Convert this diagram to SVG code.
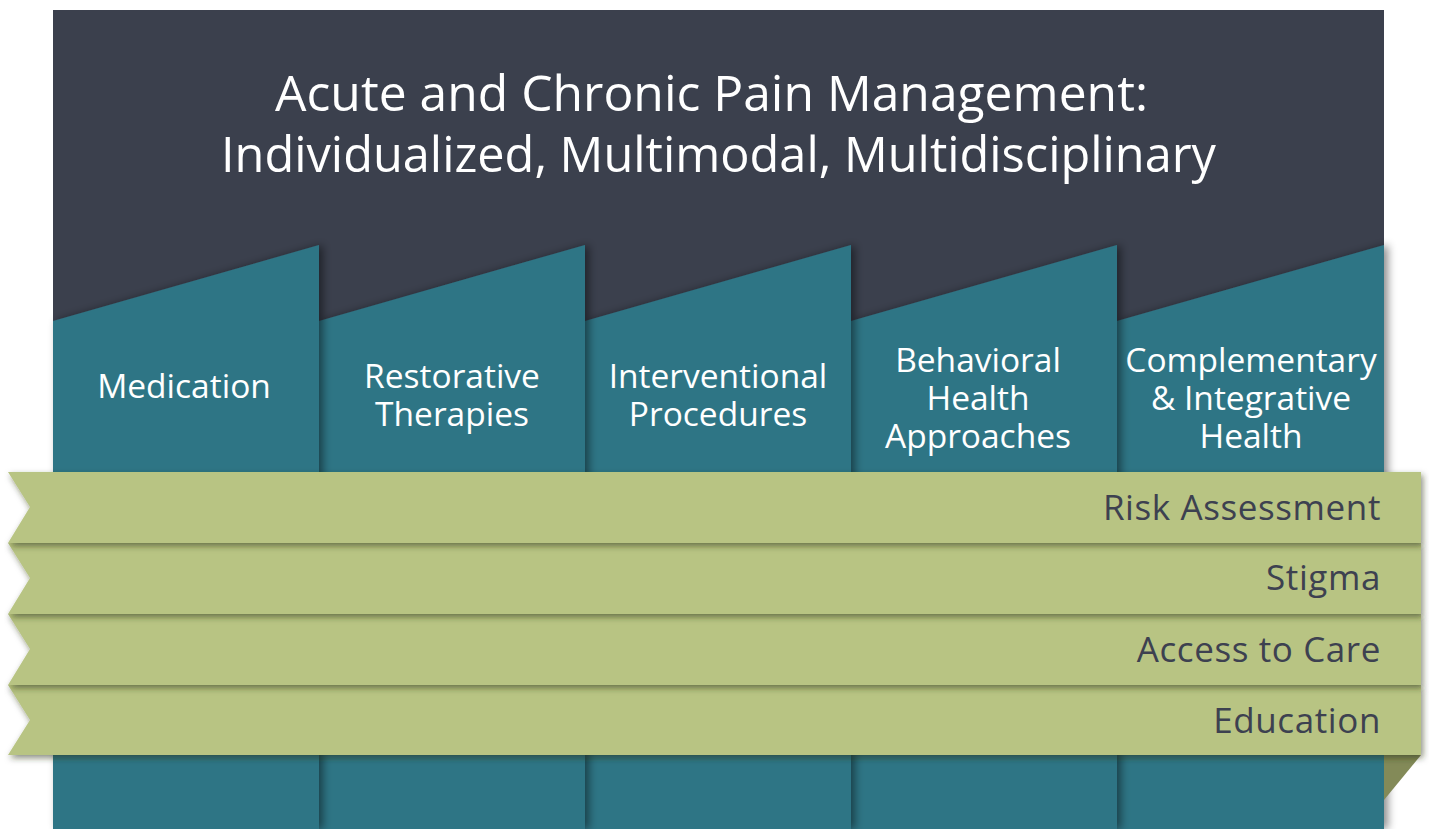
<svg xmlns="http://www.w3.org/2000/svg" width="1429" height="829" viewBox="0 0 1429 829">
<defs>
<filter id="colShadow" x="-20%" y="-20%" width="140%" height="140%">
<feDropShadow dx="4" dy="0" stdDeviation="4" flood-color="#000" flood-opacity="0.45"/>
</filter>
<filter id="ribShadow" x="-5%" y="-30%" width="110%" height="160%">
<feDropShadow dx="2" dy="3" stdDeviation="3" flood-color="#2a2f10" flood-opacity="0.55"/>
</filter>
<style>
.col{fill:#2f7585;filter:url(#colShadow)}
.rib{fill:#b8c483;filter:url(#ribShadow)}
.ct{font-family:"Open Sans","Liberation Sans",sans-serif;font-size:33.5px;fill:#ffffff;text-anchor:middle}
.rt{font-family:"Open Sans","Liberation Sans",sans-serif;font-size:35px;letter-spacing:0.6px;fill:#3d4150;text-anchor:end}
.title{font-family:"Open Sans","Liberation Sans",sans-serif;font-size:49.5px;fill:#ffffff}
</style>
</defs>
<rect x="53" y="10" width="1331" height="330" fill="#3b404d"/>
<g id="title"><text class="title" x="275" y="111" textLength="873" lengthAdjust="spacingAndGlyphs">Acute and Chronic Pain Management:</text><text class="title" x="221" y="172" textLength="995" lengthAdjust="spacingAndGlyphs">Individualized, Multimodal, Multidisciplinary</text></g>
<g id="columns">
<g id="col5"><polygon class="col" points="1117,321 1384,245 1384,829 1117,829"/><text class="ct" x="1251" y="372">Complementary</text><text class="ct" x="1251" y="410">&amp; Integrative</text><text class="ct" x="1251" y="448">Health</text></g>
<g id="col4"><polygon class="col" points="851,321 1117,245 1117,829 851,829"/><text class="ct" x="978" y="372">Behavioral</text><text class="ct" x="978" y="410">Health</text><text class="ct" x="978" y="448">Approaches</text></g>
<g id="col3"><polygon class="col" points="585,321 851,245 851,829 585,829"/><text class="ct" x="718" y="388">Interventional</text><text class="ct" x="718" y="426">Procedures</text></g>
<g id="col2"><polygon class="col" points="319,321 585,245 585,829 319,829"/><text class="ct" x="452" y="388">Restorative</text><text class="ct" x="452" y="426">Therapies</text></g>
<g id="col1"><polygon class="col" points="53,321 319,245 319,829 53,829"/><text class="ct" x="184" y="398">Medication</text></g>
</g>
<polygon id="fold" points="1384,755 1421,755 1384,800" fill="#838a58"/>
<g id="ribbons">
<g id="rib4"><polygon class="rib" points="8,685 1421,685 1421,755 8,755 30,720"/><text class="rt" x="1381" y="733">Education</text></g>
<g id="rib3"><polygon class="rib" points="8,614 1421,614 1421,685 8,685 30,649"/><text class="rt" x="1381" y="662">Access to Care</text></g>
<g id="rib2"><polygon class="rib" points="8,543 1421,543 1421,614 8,614 30,578"/><text class="rt" x="1381" y="590">Stigma</text></g>
<g id="rib1"><polygon class="rib" points="8,472 1421,472 1421,543 8,543 30,507"/><text class="rt" x="1381" y="520">Risk Assessment</text></g>
</g>
</svg>
